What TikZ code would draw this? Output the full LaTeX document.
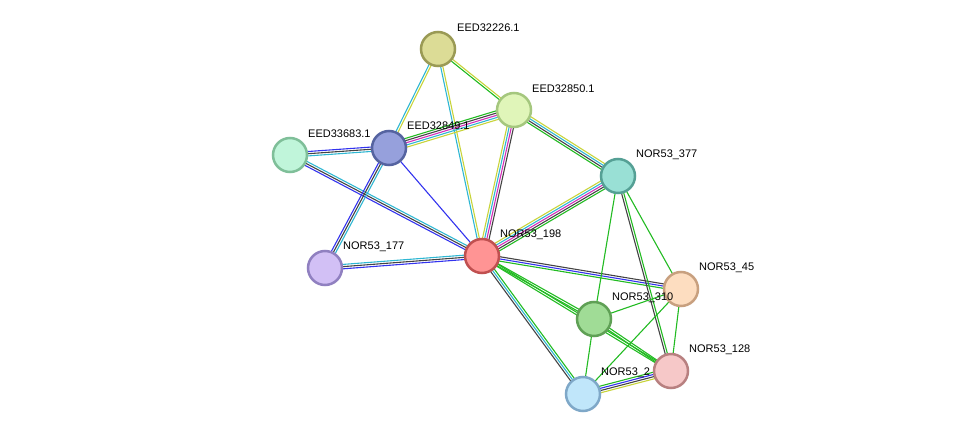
\documentclass[tikz,border=0pt]{standalone}
\usepackage{fontspec}
\setmainfont{Liberation Sans}
\usetikzlibrary{calc}
\pgfdeclarelayer{bg}\pgfsetlayers{bg,main}
\definecolor{ctm}{HTML}{C8D43B}
\definecolor{cdb}{HTML}{2FB7D3}
\definecolor{cco}{HTML}{444444}
\definecolor{cex}{HTML}{D22FB8}
\definecolor{cnb}{HTML}{22BB22}
\definecolor{cbl}{HTML}{3333EE}
\tikzset{
 prot/.style={circle,minimum size=34pt,inner sep=0pt,line width=2.5pt},
 lbl/.style={anchor=west,inner sep=0pt,font=\fontsize{11}{13}\selectfont},
}
\newcommand\stredge[3]{%
 \foreach \c [count=\i] in {#3} {\global\let\ncount\i}%
 \foreach \c [count=\i] in {#3} {%
  \pgfmathsetmacro\off{(\i-(\ncount+1)/2)*2.2}%
  \draw[\c,line width=1.1pt] ($(#1.center)!\off pt!90:(#2.center)$) -- ($(#2.center)!\off pt!-90:(#1.center)$);
 }}
\begin{document}
\begin{tikzpicture}[x=1pt,y=-1pt]
\useasboundingbox (0,0) rectangle (975,441);
\node[prot,fill={rgb,255:red,220;green,220;blue,150},draw={rgb,255:red,154;green,154;blue,85}] (a) at (438,49) {};
\node[prot,fill={rgb,255:red,224;green,245;blue,185},draw={rgb,255:red,165;green,199;blue,126}] (b) at (514,110) {};
\node[prot,fill={rgb,255:red,192;green,245;blue,218},draw={rgb,255:red,127;green,191;blue,153}] (c) at (290,155) {};
\node[prot,fill={rgb,255:red,150;green,160;blue,220},draw={rgb,255:red,85;green,99;blue,160}] (d) at (389,148) {};
\node[prot,fill={rgb,255:red,153;green,224;blue,213},draw={rgb,255:red,85;green,160;blue,149}] (e) at (618,176) {};
\node[prot,fill={rgb,255:red,210;green,192;blue,245},draw={rgb,255:red,144;green,128;blue,192}] (f) at (325,268) {};
\node[prot,fill={rgb,255:red,255;green,148;blue,148},draw={rgb,255:red,192;green,80;blue,80}] (g) at (482,256) {};
\node[prot,fill={rgb,255:red,253;green,221;blue,192},draw={rgb,255:red,200;green,160;blue,127}] (h) at (681,289) {};
\node[prot,fill={rgb,255:red,160;green,220;blue,150},draw={rgb,255:red,95;green,160;blue,85}] (i) at (594,319) {};
\node[lbl] (lk) at (601,373) {NOR53\_2};
\node[prot,fill={rgb,255:red,246;green,200;blue,200},draw={rgb,255:red,184;green,128;blue,128}] (j) at (671,371) {};
\node[prot,fill={rgb,255:red,192;green,230;blue,250},draw={rgb,255:red,127;green,168;blue,200}] (k) at (583,394) {};
\begin{pgfonlayer}{bg}
\stredge{a}{d}{cdb,ctm}
\stredge{a}{g}{cdb,ctm}
\stredge{a}{b}{cnb,ctm}
\stredge{d}{b}{ctm,cdb,cex,cco,cnb}
\stredge{b}{g}{ctm,cdb,cex,cco}
\stredge{b}{e}{cnb,cco,cdb,ctm}
\stredge{c}{d}{cdb,cco,cbl}
\stredge{c}{g}{cbl,cco,cdb}
\stredge{d}{f}{cbl,cco,cdb}
\stredge{d}{g}{cbl}
\stredge{f}{g}{cbl,cco,cdb}
\stredge{g}{e}{cnb,cco,cex,cdb,ctm}
\stredge{g}{h}{cnb,cbl,cco}
\stredge{g}{i}{cnb,cnb}
\stredge{g}{j}{cnb,cnb}
\stredge{g}{k}{cco,cdb,cnb}
\stredge{e}{i}{cnb}
\stredge{e}{h}{cnb}
\stredge{e}{j}{cco,cnb}
\stredge{h}{i}{cnb}
\stredge{h}{j}{cnb}
\stredge{h}{k}{cnb}
\stredge{i}{j}{cnb,cnb}
\stredge{i}{k}{cnb}
\stredge{k}{j}{ctm,cco,cbl,cnb}
\end{pgfonlayer}
\node[lbl] (la) at (457,28) {EED32226.1};
\node[lbl] (lb) at (532,89) {EED32850.1};
\node[lbl] (lc) at (308,134) {EED33683.1};
\node[lbl] (ld) at (407,126) {EED32849.1};
\node[lbl] (le) at (636,155) {NOR53\_377};
\node[lbl] (lf) at (343,247) {NOR53\_177};
\node[lbl] (lg) at (500,235) {NOR53\_198};
\node[lbl] (lh) at (699,268) {NOR53\_45};
\node[lbl] (li) at (612,298) {NOR53\_310};
\node[lbl] (lj) at (689,350) {NOR53\_128};
\end{tikzpicture}
\end{document}
